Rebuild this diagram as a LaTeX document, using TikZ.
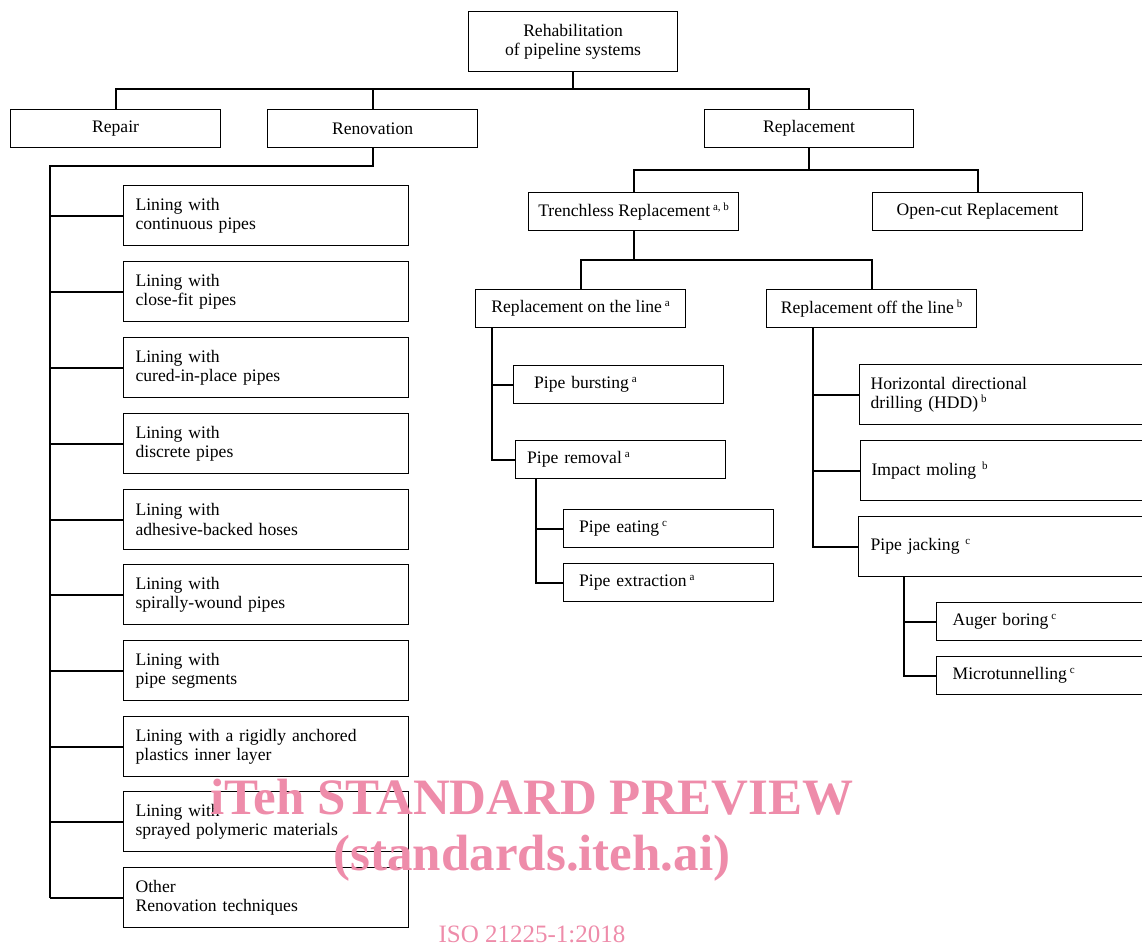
\documentclass[tikz,border=0pt]{standalone}
\usepackage{fontspec}
\setmainfont{Liberation Serif}
\definecolor{wmpink}{RGB}{238,140,170}
\newcommand{\fnote}[1]{\raisebox{0.75ex}{\fontsize{11}{11}\selectfont #1}}
\tikzset{
  box/.style={draw, line width=1.2pt, inner sep=0pt, anchor=north west, align=center,
    minimum width=210pt, minimum height=38pt, font=\fontsize{17.6}{19.5}\selectfont},
  lbox/.style={box, align=left, inner xsep=12pt, text width=#1},
  wire/.style={line width=1.8pt},
  wmark/.style={text=wmpink, anchor=base, inner sep=0pt}
}

\begin{document}
\begin{tikzpicture}[x=1pt,y=-1pt]
\clip (0,0) rectangle (1142,945);

% Top level
\node[box, minimum width=209pt, minimum height=60pt] (root) at (468,11) {Rehabilitation\\of pipeline systems};
\node[box] (repair) at (10,109) {Repair};
\node[box] (renov) at (267,109) {Renovation};
\node[box, minimum width=209pt] (replace) at (704,109) {Replacement};

\coordinate (topbus) at (root.south |- 0,89);
\draw[wire] (root.south) -- (topbus);
\draw[wire] (repair.north) |- (topbus);
\draw[wire] (replace.north) |- (topbus);
\draw[wire] (renov.north) -- (renov.north |- topbus);

% Renovation
\foreach \i/\y/\txt in {1/185/{Lining with\\continuous pipes},
  2/261/{Lining with\\close-fit pipes},
  3/337/{Lining with\\cured-in-place pipes},
  4/413/{Lining with\\discrete pipes},
  5/489/{Lining with\\adhesive-backed hoses},
  6/564/{Lining with\\spirally-wound pipes},
  7/640/{Lining with\\pipe segments},
  8/716/{Lining with a rigidly anchored\\plastics inner layer},
  9/791/{Lining with\\sprayed polymeric materials},
  10/867/{Other\\Renovation techniques}}
  \node[lbox=261pt, minimum height=60pt] (lin\i) at (123,\y) {\txt};

\coordinate (renbus) at (50,166);
\draw[wire] (renov.south) |- (renbus) -- (renbus |- lin10.west);
\foreach \i in {1,...,10}
  \draw[wire] (lin\i.west) -- (lin\i.west -| renbus);

% Replacement
\node[box] (trench) at (528,192) {Trenchless Replacement\,\fnote{a, b}};
\node[box] (opencut) at (872,192) {Open-cut Replacement};

\coordinate (repbus) at (replace.south |- 0,170);
\draw[wire] (replace.south) -- (repbus);
\draw[wire] (trench.north) |- (repbus);
\draw[wire] (opencut.north) |- (repbus);

\node[box] (online) at (475,289) {Replacement on the line\,\fnote{a}};
\node[box] (offline) at (766,289) {Replacement off the line\,\fnote{b}};

\coordinate (trbus) at (trench.south |- 0,260);
\draw[wire] (trench.south) -- (trbus);
\draw[wire] (online.north) |- (trbus);
\draw[wire] (offline.north) |- (trbus);

% On the line
\node[lbox=169pt, inner xsep=20pt] (bursting) at (513,365) {Pipe bursting\,\fnote{a}};
\node[lbox=187pt, inner xsep=11pt] (removal) at (515,440) {Pipe removal\,\fnote{a}};
\node[lbox=179pt, inner xsep=15pt] (eating) at (563,509) {Pipe eating\,\fnote{c}};
\node[lbox=179pt, inner xsep=15pt] (extract) at (563,563) {Pipe extraction\,\fnote{a}};

\coordinate (onspine) at ([xshift=17pt]online.south west);
\draw[wire] (onspine) |- (removal.west);
\draw[wire] (bursting.west) -- (bursting.west -| onspine);
\coordinate (rmspine) at ([xshift=21pt]removal.south west);
\draw[wire] (rmspine) |- (extract.west);
\draw[wire] (eating.west) -- (eating.west -| rmspine);

% Off the line
\node[lbox=278pt, inner xsep=11pt, minimum height=60pt] (hdd) at (859,364) {Horizontal directional\\drilling (HDD)\,\fnote{b}};
\node[lbox=278pt, inner xsep=11pt, minimum height=60pt] (moling) at (860,440) {Impact moling\,\,\fnote{b}};
\node[lbox=276pt, inner xsep=12pt, minimum height=60pt] (jacking) at (858,516) {Pipe jacking\,\,\fnote{c}};
\node[lbox=268pt, inner xsep=16pt] (auger) at (936,602) {Auger boring\,\fnote{c}};
\node[lbox=268pt, inner xsep=16pt] (micro) at (936,656) {Microtunnelling\,\fnote{c}};

\coordinate (offspine) at ([xshift=47pt]offline.south west);
\draw[wire] (offspine) |- (jacking.west);
\draw[wire] (hdd.west) -- (hdd.west -| offspine);
\draw[wire] (moling.west) -- (moling.west -| offspine);
\coordinate (jkspine) at ([xshift=46pt]jacking.south west);
\draw[wire] (jkspine) |- (micro.west);
\draw[wire] (auger.west) -- (auger.west -| jkspine);

% Watermark
\node[wmark, font=\bfseries\fontsize{51}{51}\selectfont] (wm1) at (532,814) {iTeh STANDARD PREVIEW};
\node[wmark, font=\bfseries\fontsize{51}{51}\selectfont] (wm2) at (532,870) {(standards.iteh.ai)};
\node[wmark, font=\fontsize{25}{25}\selectfont] (wm3) at (532,942) {ISO 21225-1:2018};
\end{tikzpicture}
\end{document}
